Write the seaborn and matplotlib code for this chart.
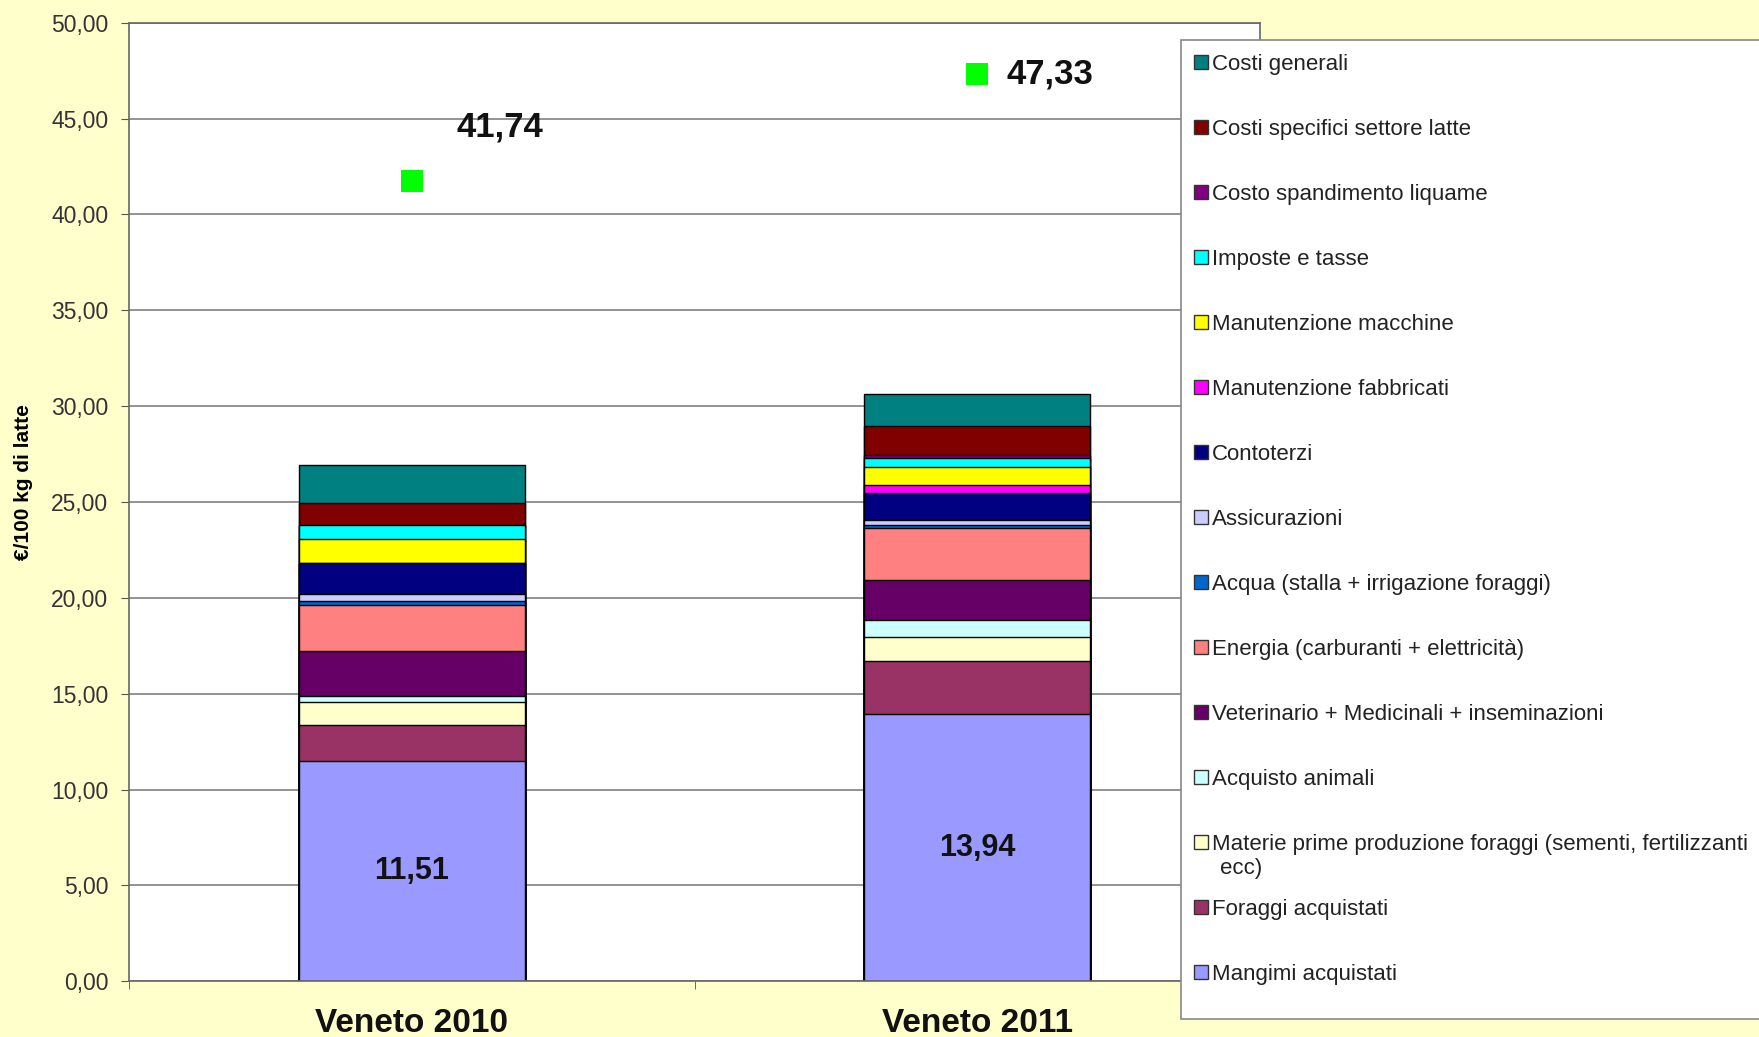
import numpy as np
import pandas as pd
import matplotlib
matplotlib.use('Agg')
import matplotlib.pyplot as plt
from matplotlib.patches import Patch, Rectangle
import seaborn as sns

years = ['Veneto 2010', 'Veneto 2011']

# cost items, from bottom of the stack to the top
items = [
    'Mangimi acquistati',
    'Foraggi acquistati',
    'Materie prime produzione foraggi (sementi, fertilizzanti ecc)',
    'Acquisto animali',
    'Veterinario + Medicinali + inseminazioni',
    'Energia (carburanti + elettricità)',
    'Acqua (stalla + irrigazione foraggi)',
    'Assicurazioni',
    'Contoterzi',
    'Manutenzione fabbricati',
    'Manutenzione macchine',
    'Imposte e tasse',
    'Costo spandimento liquame',
    'Costi specifici settore latte',
    'Costi generali',
]
colors = ['#9999FF', '#993366', '#FFFFCC', '#CCFFFF', '#660066', '#FF8080',
          '#0066CC', '#CCCCFF', '#000080', '#FF00FF', '#FFFF00', '#00FFFF',
          '#800080', '#800000', '#008080']

v2010 = [11.51, 1.85, 1.22, 0.30, 2.34, 2.40, 0.23, 0.35, 1.60, 0.00, 1.25, 0.75, 0.00, 1.13, 2.00]
v2011 = [13.94, 2.76, 1.24, 0.90, 2.09, 2.70, 0.17, 0.26, 1.42, 0.40, 0.93, 0.50, 0.14, 1.51, 1.66]

# green markers (total cost incl. other items)
totals = [41.74, 47.33]

def fmt(v):
    return f"{v:.2f}".replace('.', ',')

plt.rcParams['font.family'] = ['Liberation Sans', 'DejaVu Sans']

cum = pd.DataFrame({'Veneto 2010': np.cumsum(v2010), 'Veneto 2011': np.cumsum(v2011)}, index=items)

W, H = 1759, 1037
fig = plt.figure(figsize=(W/100, H/100), dpi=100, facecolor='#FFFFCC')
ax = fig.add_axes([129/W, 1-981.2/H, (1260-129)/W, (981.2-22.7)/H])
ax.set_facecolor('white')

#Draw cumulative bars top-down so each lower segment covers the previous one
for i in reversed(range(len(items))):
    sns.barplot(x=years, y=cum.iloc[i].values, color=colors[i], saturation=1,
                edgecolor='black', linewidth=1, width=0.4, ax=ax)

sns.scatterplot(x=np.arange(len(years)), y=totals, marker='s', color='#00FF00',
                s=250, edgecolor='none', ax=ax, zorder=5, legend=False)

offsets = [(45, 54), (29, 0)]
for i, t in enumerate(totals):
    ax.annotate(fmt(t), xy=(i, t), xytext=offsets[i], textcoords='offset pixels',
                ha='left', va='center', fontsize=25, fontweight='bold', color='#111111')

base = [v2010[0], v2011[0]]
for i, v in enumerate(base):
    ax.text(i, v/2, fmt(v), ha='center', va='center', fontsize=22, fontweight='bold', color='#111111')

#Formatting the plot
ax.set_xlim(-0.5, 1.5)
ax.set_ylim(0, 50)
ax.set_yticks(np.arange(0, 51, 5))
ax.set_yticklabels([fmt(v) for v in np.arange(0, 51, 5)], fontsize=16.5, color='#333333')
ax.yaxis.grid(True, color='#808080', linewidth=1.2)
ax.set_axisbelow(True)
ax.tick_params(axis='y', length=5.8, pad=9, color='#555555')
ax.set_xticks([0, 1])
ax.set_xticklabels(years, fontsize=24, fontweight='bold', color='#111111')
ax.tick_params(axis='x', length=0, pad=19)
ax.set_xticks([-0.5, 0.5, 1.5], minor=True)
ax.tick_params(axis='x', which='minor', length=6, color='#555555')
ax.set_xlabel('')
ax.set_ylabel('€/100 kg di latte', fontsize=15, fontweight='bold')
ax.yaxis.label.set_va('center')
ax.yaxis.set_label_coords(-0.0937, 0.521)
for s in ax.spines.values():
    s.set_color('#666666')
    s.set_linewidth(1.2)

#Legend box drawn by hand so it can run off the right edge like the original
fig.add_artist(Rectangle((1181/W, 1-1018.6/H), (W-1181+20)/W, (1018.6-40.4)/H,
                         transform=fig.transFigure, facecolor='white',
                         edgecolor='#888888', linewidth=1.2, zorder=4))

# legend shows the long label on one line, the wrapped "ecc)" is added below
leg_labels = [n.replace(' ecc)', '') for n in items]
handles = [Patch(facecolor=c, edgecolor='#333333', linewidth=1, label=n)
           for n, c in zip(leg_labels, colors)][::-1]
leg = fig.legend(handles=handles, loc='upper left',
                 bbox_to_anchor=(1181/W, 1-40.4/H), bbox_transform=fig.transFigure,
                 frameon=False, fontsize=16, labelspacing=1.98, borderpad=0.6,
                 handlelength=0.6, handleheight=0.6, handletextpad=0.2,
                 borderaxespad=0)
leg.set_zorder(5)
for t in leg.get_texts():
    t.set_color('#222222')

fig.canvas.draw()
for t in leg.get_texts():
    if t.get_text().startswith('Materie'):
        bb = t.get_window_extent()
        fig.text((bb.x0 + 8)/W, ((bb.y0 + bb.y1)/2 - 24.7)/H, 'ecc)', fontsize=16,
                 color='#222222', ha='left', va='center', zorder=6)

fig.savefig('out.png', dpi=100, facecolor=fig.get_facecolor())
